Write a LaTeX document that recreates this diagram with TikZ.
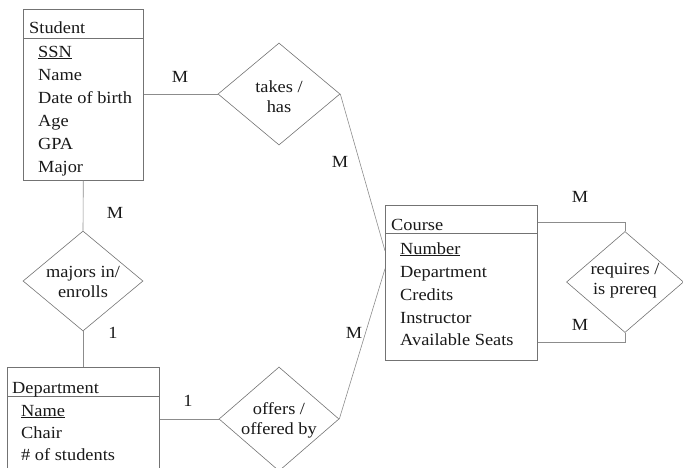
\documentclass[tikz,border=0pt]{standalone}
\usepackage{fontspec}
\setmainfont[FakeStretch=1.08]{Liberation Serif}
\usetikzlibrary{shapes.geometric}
\begin{document}
\begin{tikzpicture}[x=1pt,y=-1pt,
  every node/.style={font=\fontsize{17}{19}\selectfont, text=black!90, inner sep=0pt},
  entity/.style={draw=black!55, line width=0.6pt, anchor=north west},
  relation/.style={draw=black!55, line width=0.6pt, diamond, minimum width=122pt, minimum height=102pt},
  link/.style={draw=black!45, line width=0.6pt},
  attr/.style={anchor=base west},
  rtext/.style={align=center, font=\fontsize{17}{20}\selectfont},
  card/.style={anchor=center}]
\useasboundingbox (0,0) rectangle (683,467);

% ---- entity boxes ----
\node[entity, minimum width=120pt, minimum height=171pt] (student) at (23,9) {};
\node[entity, minimum width=152pt, minimum height=110pt] (dept) at (7,367) {};
\node[entity, minimum width=152pt, minimum height=155pt] (course) at (385,205) {};

% header rules
\draw[link, draw=black!55] ([yshift=-29pt]student.north west) -- ([yshift=-29pt]student.north east);
\draw[link, draw=black!55] ([yshift=-29pt]dept.north west) -- ([yshift=-29pt]dept.north east);
\draw[link, draw=black!55] ([yshift=-28pt]course.north west) -- ([yshift=-28pt]course.north east);

% ---- Student ----
\node[attr] (sT) at (29,33) {Student};
\node[attr] (s1) at (38,57) {\underline{SSN}};
\node[attr] (s2) at (38,80) {Name};
\node[attr] (s3) at (38,103) {Date of birth};
\node[attr] (s4) at (38,126) {Age};
\node[attr] (s5) at (38,149) {GPA};
\node[attr] (s6) at (38,172) {Major};

% ---- Department ----
\node[attr] (dT) at (12,393) {Department};
\node[attr] (d1) at (21,416) {\underline{Name}};
\node[attr] (d2) at (21,438) {Chair};
\node[attr] (d3) at (21,460) {\# of students};

% ---- Course ----
\node[attr] (cT) at (391,230) {Course};
\node[attr] (c1) at (400,254) {\underline{Number}};
\node[attr] (c2) at (400,277) {Department};
\node[attr] (c3) at (400,300) {Credits};
\node[attr] (c4) at (400,323) {Instructor};
\node[attr] (c5) at (400,345) {Available Seats};

% ---- relationships ----
\node[relation] (takes) at (279,94) {};
\node[rtext] (takesT) at (279,97) {takes /\\has};
\node[relation, minimum width=120pt, minimum height=100pt] (majors) at (83,281) {};
\node[rtext] (majorsT) at (83,282) {majors in/\\enrolls};
\node[relation, minimum width=120pt, minimum height=104pt] (offers) at (279,419) {};
\node[rtext] (offersT) at (279,420) {offers /\\offered by};
\node[relation, minimum width=117pt, minimum height=101pt] (requires) at (625,282) {};
\node[rtext] (requiresT) at (625,281) {requires /\\is prereq};

% ---- connectors ----
\draw[link] ([yshift=-85pt]student.north east) -- (takes.west);
\draw[link] (takes.east) -- ([yshift=32pt]course.west);
\draw[link] (student.south) -- (majors.north);
\draw[link] (majors.south) -- (dept.north -| majors.south);
\draw[link] ([yshift=-52pt]dept.north east) -- (offers.west);
\draw[link] (offers.east) -- ([yshift=14pt]course.west);
\draw[link] ([yshift=-17pt]course.north east) -| (requires.north);
\draw[link] ([yshift=18pt]course.south east) -| (requires.south);

% ---- cardinalities ----
\node[card] (m1) at (180,77) {M};
\node[card] (m2) at (340,162) {M};
\node[card] (m3) at (115,213) {M};
\node[card] (o1) at (113,333) {1};
\node[card] (o2) at (188,401) {1};
\node[card] (m4) at (354,333) {M};
\node[card] (m5) at (580,197) {M};
\node[card] (m6) at (580,325) {M};
\end{tikzpicture}
\end{document}
